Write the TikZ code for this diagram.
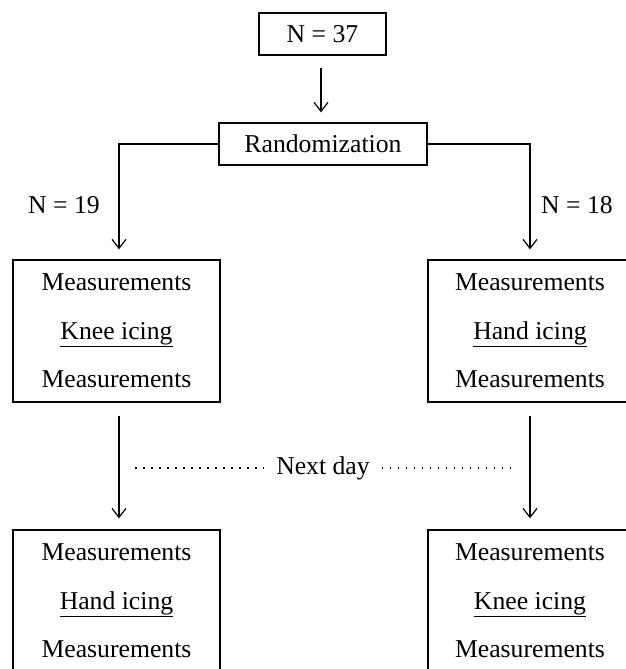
\documentclass[tikz,border=0pt]{standalone}
\usepackage{fontspec}
\setmainfont{Liberation Serif}
\usetikzlibrary{arrows.meta}
\begin{document}
\begin{tikzpicture}[x=1pt,y=-1pt,
  box/.style={draw, line width=1.3pt, inner sep=0pt, align=center,
    font=\fontsize{25.7}{48.5}\selectfont, minimum width=207pt, minimum height=142pt},
  small/.style={draw, line width=1.3pt, inner sep=0pt, minimum height=42pt,
    font=\fontsize{25.7}{30}\selectfont},
  lbl/.style={font=\fontsize{25.7}{30}\selectfont, inner sep=0pt},
  arr/.style={line width=1.2pt, -{Straight Barb[length=9pt,width=14pt,line width=1.2pt]}},
  dotline/.style={line width=1.5pt, dash pattern=on 1.5pt off 6.5pt}]
\useasboundingbox (0,0) rectangle (626,669);

\node[small, minimum width=127pt] (n37) at (322.5,34) {N = 37};
\node[small, minimum width=208pt] (rand) at (323,144) {Randomization};

\node[box] (L1) at (116.5,331) {Measurements\\\underline{Knee icing}\\Measurements};
\node[box, minimum width=204pt] (R1) at (530,331) {Measurements\\\underline{Hand icing}\\Measurements};
\node[box] (L2) at (116.5,601) {Measurements\\\underline{Hand icing}\\Measurements};
\node[box, minimum width=204pt] (R2) at (530,601) {Measurements\\\underline{Knee icing}\\Measurements};

\node[lbl] (n19) at (64,205) {N = 19};
\node[lbl] (n18) at (577,205) {N = 18};
\node[lbl, inner xsep=12pt] (nd) at (323,468) {Next day};

\draw[arr, shorten <=12pt, shorten >=10pt] ([xshift=-1.5pt]n37.south) -- ([xshift=-2pt]rand.north);
\draw[arr, shorten >=10pt] (rand.west) -| ([xshift=2.5pt]L1.north);
\draw[arr, shorten >=10pt] (rand.east) -| (R1.north);

\draw[arr, shorten <=13pt, shorten >=11pt] ([xshift=2.5pt]L1.south) -- ([xshift=2.5pt]L2.north);
\draw[arr, shorten <=13pt, shorten >=11pt] (R1.south) -- (R2.north);

\coordinate (dl) at (135,468);
\coordinate (dr) at (515,468);
\draw[dotline] (dl) -- (nd.west);
\draw[dotline] (nd.east) -- (dr);
\end{tikzpicture}
\end{document}
